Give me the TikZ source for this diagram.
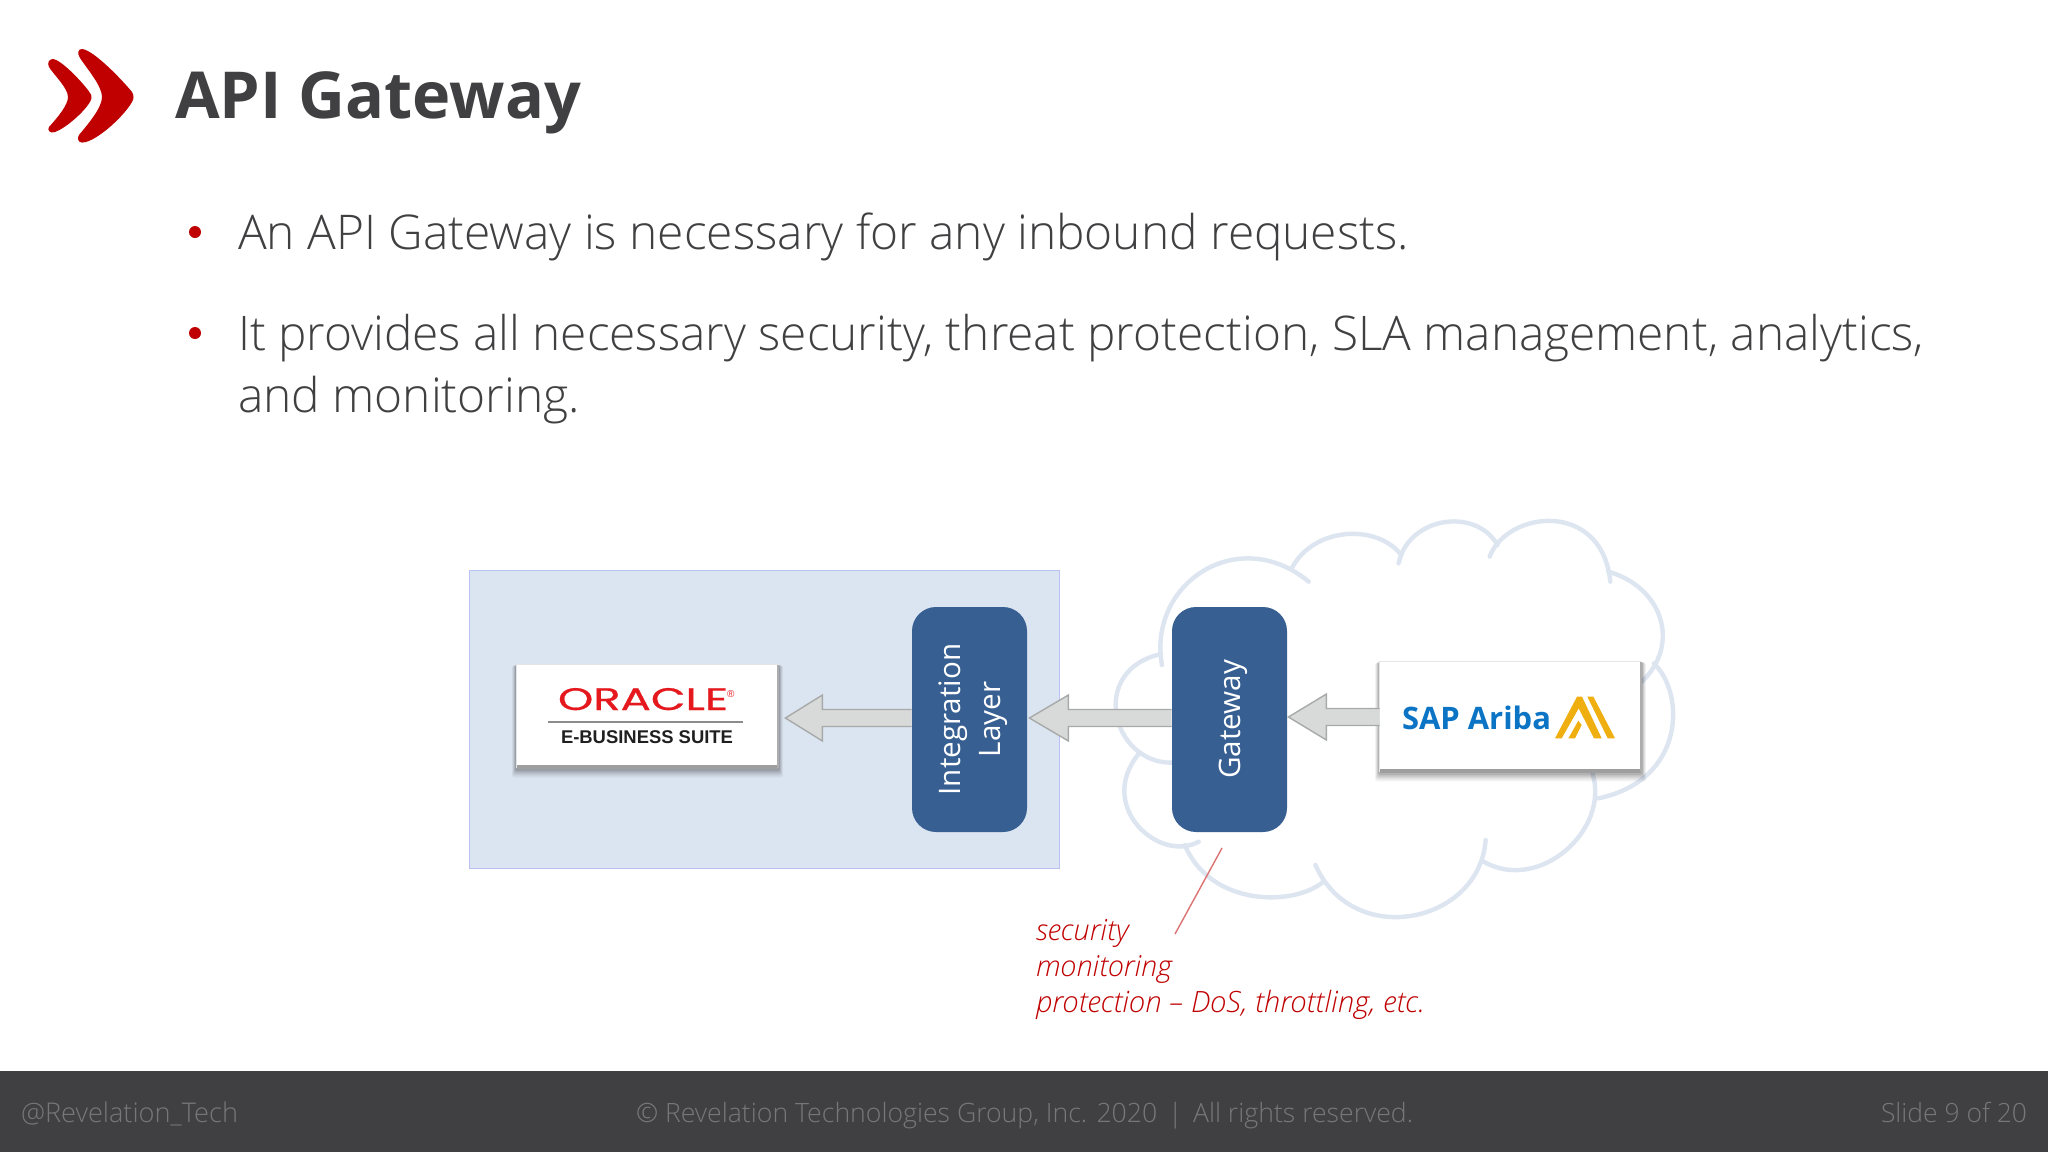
\documentclass[tikz,border=0pt]{standalone}
\usepackage{fontspec}
\usepackage{graphicx}
\usetikzlibrary{calc}
\setmainfont{Open Sans}
\newfontfamily\lightf{Open Sans Light}
\newfontfamily\lightit{Open Sans Light Italic}
\newfontfamily\arialf{Liberation Sans}
\newfontfamily\popf[FakeBold=0.6]{Poppins}
\definecolor{ink}{HTML}{404042}
\definecolor{redm}{HTML}{C00000}
\definecolor{bluebox}{HTML}{375F92}
\definecolor{paleblue}{HTML}{DBE4F1}
\definecolor{cloudc}{HTML}{DDE5F1}
\definecolor{arrowfill}{HTML}{D8D9D9}
\definecolor{arrowline}{HTML}{A8AAAA}
\definecolor{foot}{HTML}{77777A}
\definecolor{sapblue}{HTML}{0B74C4}
\definecolor{sapgold}{HTML}{EFAF10}
\definecolor{orared}{HTML}{E5181E}
\tikzset{
  txt/.style={anchor=base west,inner sep=0pt,outer sep=0pt},
  block/.style={draw=none,fill=bluebox,rounded corners=12pt,minimum width=57.5pt,minimum height=112.5pt,inner sep=0pt,text=white,font=\fontsize{14.8}{20}\selectfont},
  card/.style={fill=white,draw=none,inner sep=0pt},
  barrow/.style={fill=arrowfill,draw=arrowline,line width=0.7pt,line join=miter},
  cloudline/.style={draw=cloudc,line width=2.2pt,line cap=round},
  bullet/.style={circle,fill=redm,minimum size=6pt,inner sep=0pt},
  body/.style={txt,text=ink},
  footer/.style={txt,text=foot},
  note/.style={txt,text=redm}
}
% soft shadow of a card: #1 name
\newcommand{\cardshadow}[1]{%
  \foreach \s/\o in {4.5/0.05,3.5/0.07,2.5/0.09,1.5/0.12}{%
    \fill[black,opacity=\o,rounded corners=1pt] ($(#1.south west)+(-\s*0.5pt,-\s*1pt)$) rectangle ($(#1.north east)+(\s*0.5pt,-\s*0.1pt)$);}%
}
% bevel edges of a card
\newcommand{\cardedge}[1]{%
  \fill[black!38] ($(#1.south west)+(0,1.5pt)$) rectangle ($(#1.south east)+(0,-0.3pt)$);
  \fill[black!32] ($(#1.south east)+(-0.8pt,0)$) rectangle ($(#1.north east)+(0.3pt,0)$);
  \draw[black!10,line width=0.3pt] (#1.south west) -- (#1.north west) -- (#1.north east);
}
% block arrow from #1 to the point #2, head length #3 (pt)
\newcommand{\blockarrow}[3]{%
  \draw[barrow] let \p1=(#1), \p2=(#2) in
    (\x1,\y2+4.25pt) -- (\x2+#3,\y2+4.25pt) -- (\x2+#3,\y2+11.5pt) -- (\x2,\y2)
    -- (\x2+#3,\y2-11.5pt) -- (\x2+#3,\y2-4.25pt) -- (\x1,\y2-4.25pt);
}
\begin{document}
\begin{tikzpicture}[x=0.5pt,y=-0.5pt]
\useasboundingbox (0,0) rectangle (2048,1152);
\fill[white] (0,0) rectangle (2048,1152);

% logo
\fill[redm] (53,59) .. controls (62,60) and (85,85) .. (90,93) .. controls (92,95) and (92,99) .. (90,102) .. controls (84,112) and (66,128) .. (55,132) .. controls (50,134) and (47,130) .. (49,127) .. controls (58,117) and (68,105) .. (68,97) .. controls (68,88) and (54,75) .. (49,67) .. controls (47,63) and (49,59) .. (53,59) -- cycle;
\fill[redm] (82,49) .. controls (94,50) and (124,82) .. (132,92) .. controls (134,95) and (134,99) .. (132,102) .. controls (124,116) and (100,138) .. (86,142) .. controls (80,144) and (76,141) .. (79,135) .. controls (88,124) and (102,108) .. (102,97) .. controls (102,86) and (88,70) .. (80,58) .. controls (77,53) and (78,49) .. (82,49) -- cycle;

% title
\node[txt,text=ink,font=\bfseries] (title) at (175,118) {\resizebox{203pt}{!}{\fontsize{41}{48}\selectfont API Gateway}};

% bullets and body
\node[bullet] (b1) at (195,232) {};
\node[bullet] (b2) at (195,333) {};
\node[body] (l1) at (238,249) {\resizebox{585.5pt}{!}{\lightf\fontsize{26}{30}\selectfont An API Gateway is necessary for any inbound requests.}};
\node[body] (l2) at (238,350) {\resizebox{843pt}{!}{\lightf\fontsize{26}{30}\selectfont It provides all necessary security, threat protection, SLA management, analytics,}};
\node[body] (l3) at (238,412) {\resizebox{171pt}{!}{\lightf\fontsize{26}{30}\selectfont and monitoring.}};

% enterprise box
\node[fill=paleblue,draw=black!0!paleblue!85!blue,line width=0.5pt,minimum width=295pt,minimum height=149pt,inner sep=0pt] (ent) at (764,719) {};

% cloud
\begin{scope}[shift={(1080,500)},x=0.19786pt,y=-0.16667pt,cloudline]
\draw (207,495) .. controls (170,250) and (400,70) .. (578,245);
\draw (535,205) .. controls (590,80) and (750,70) .. (812,165);
\draw (805,190) .. controls (830,50) and (1000,20) .. (1055,135);
\draw (1035,170) .. controls (1080,30) and (1320,0) .. (1340,245);
\draw (1335,215) .. controls (1470,260) and (1520,430) .. (1420,545);
\draw (1450,490) .. controls (1530,580) and (1530,840) .. (1310,895);
\draw (1295,820) .. controls (1340,990) and (1160,1180) .. (1020,1085);
\draw (1025,1020) .. controls (1010,1270) and (690,1350) .. (595,1095);
\draw (615,1145) .. controls (540,1220) and (330,1220) .. (265,1035);
\draw (300,1025) .. controls (200,1090) and (40,920) .. (148,762);
\draw (232,788) .. controls (80,790) and (20,510) .. (205,462);
\end{scope}

% blocks
\node[block] (integ) at (969.5,719.5) {\hspace*{2.6pt}\rotatebox{90}{\begin{tabular}{@{}c@{}}Integration\\Layer\end{tabular}}};
\node[block] (gate) at (1229.5,719.5) {\hspace*{4pt}\rotatebox{90}{Gateway}};

% cards: shadow first, then the white face
\coordinate (oraC) at (647.5,716.5);
\coordinate (sapC) at (1510.5,717);
\node[minimum width=130.5pt,minimum height=51.5pt,inner sep=0pt] (orashape) at (oraC) {};
\node[minimum width=130.5pt,minimum height=55pt,inner sep=0pt] (sapshape) at (sapC) {};
\cardshadow{orashape}
\cardshadow{sapshape}
\node[card,minimum width=130.5pt,minimum height=51.5pt] (ora) at (oraC) {};
\node[card,minimum width=130.5pt,minimum height=55pt] (sap) at (sapC) {};
\cardedge{ora}
\cardedge{sap}

% connectors
\coordinate (t1) at ($(ora.east)+(3.5pt,-0.75pt)$);
\coordinate (t2) at ($(integ.east)+(1pt,0.75pt)$);
\coordinate (t3) at ($(gate.east)+(0.5pt,1.25pt)$);
\blockarrow{integ.west}{t1}{18.5pt}
\blockarrow{gate.west}{t2}{19.5pt}
\blockarrow{sap.west}{t3}{19pt}

% Oracle logo text
\node[txt,text=orared] (oracle) at (558,710) {\resizebox{85pt}{11pt}{\popf ORACLE}};
\node[txt,text=orared] (orareg) at (727,697) {\fontsize{5}{6}\selectfont\arialf\textregistered};
\node[inner sep=0pt,minimum width=0pt] (rulel) at (548,722) {};
\node[inner sep=0pt,minimum width=0pt] (ruler) at (743,722) {};
\draw[black!45,line width=0.6pt] (rulel) -- (ruler);
\node[txt,text=black!88] (ebs) at (561,743) {\resizebox{86pt}{!}{\arialf\bfseries E-BUSINESS SUITE}};

% SAP Ariba logo
\node[txt,text=sapblue,font=\bfseries] (ariba) at (1402,729) {\resizebox{74.5pt}{!}{SAP Ariba}};
\begin{scope}[shift={(1530,670)},x=0.16667pt,y=-0.16667pt,fill=sapgold]
\fill (75,205) -- (141,80) -- (156,80) -- (215,205) -- (192,205) -- (146,115) -- (95,205) -- cycle;
\fill (172,80) -- (190,80) -- (255,205) -- (233,205) -- cycle;
\fill (115,205) -- (135,205) -- (155,165) -- (145,152) -- cycle;
\end{scope}

% annotation
\coordinate (notea) at (1222,848);
\coordinate (noteb) at (1175,934);
\draw[draw=redm!55,line width=0.7pt] (notea) -- (noteb);
\node[note] (n1) at (1036,940) {\resizebox{46.5pt}{!}{\lightit\fontsize{14}{17}\selectfont security}};
\node[note] (n2) at (1036,976) {\resizebox{68pt}{!}{\lightit\fontsize{14}{17}\selectfont monitoring}};
\node[note] (n3) at (1036,1012) {\resizebox{194.5pt}{!}{\lightit\fontsize{14}{17}\selectfont protection – DoS, throttling, etc.}};

% footer
\fill[ink] (0,1071) rectangle (2048,1152);
\node[footer] (f1) at (21,1122) {\resizebox{108.5pt}{!}{\lightf\fontsize{14}{17}\selectfont @Revelation\_Tech}};
\node[footer] (f2) at (636,1122) {\resizebox{388.5pt}{!}{\lightf\fontsize{14}{17}\selectfont © Revelation Technologies Group, Inc. 2020\hspace{0.4em}|\hspace{0.4em}All rights reserved.}};
\node[footer] (f3) at (1881,1122) {\resizebox{73pt}{!}{\lightf\fontsize{14}{17}\selectfont Slide 9 of 20}};
\end{tikzpicture}
\end{document}
